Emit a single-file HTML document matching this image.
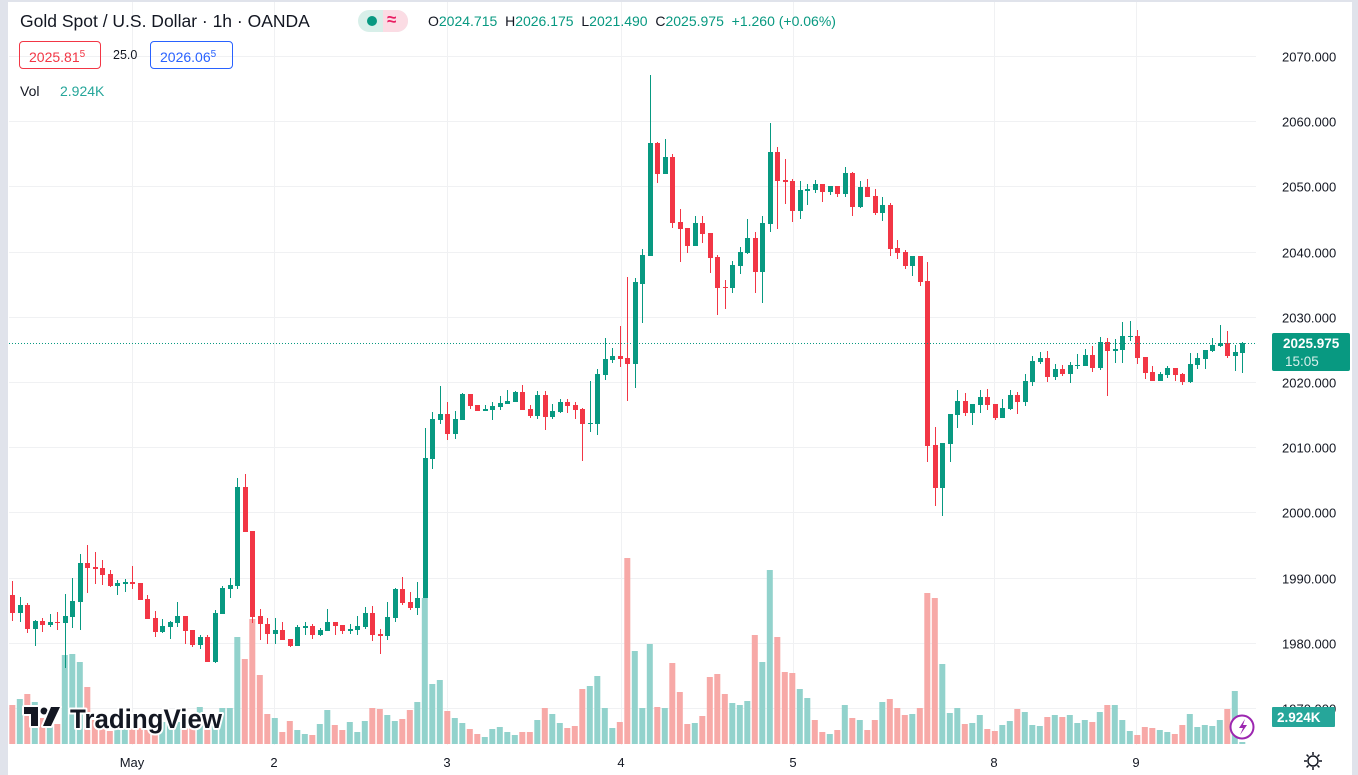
<!DOCTYPE html>
<html><head><meta charset="utf-8"><style>
html,body{margin:0;padding:0;background:#fff;}
body{width:1358px;height:775px;overflow:hidden;position:relative;font-family:"Liberation Sans",sans-serif;}
.t{position:absolute;white-space:nowrap;}
</style></head><body>
<svg id="s" width="1358" height="775" style="position:absolute;left:0;top:0" xmlns="http://www.w3.org/2000/svg">
<rect x="0" y="0" width="1358" height="775" fill="#fff"/>
<g id="grid"></g>
<g id="vol"></g>
<g id="cand"></g>
<line x1="9" y1="343.5" x2="1256" y2="343.5" stroke="#089981" stroke-width="1" stroke-dasharray="1,2"/>
<g id="axis" font-family="Liberation Sans, sans-serif" font-size="13" fill="#131722"></g>
<rect x="1272" y="333" width="78" height="38" rx="2" fill="#089981"/>
<text x="1283" y="348" font-family="Liberation Sans, sans-serif" font-size="13.5" fill="#fff" font-weight="bold">2025.975</text>
<text x="1285" y="366" font-family="Liberation Sans, sans-serif" font-size="13.5" fill="#d8f0ec">15:05</text>
<rect x="1272" y="707" width="63" height="20" rx="1" fill="#26a69a"/>
<text x="1277" y="722" font-family="Liberation Sans, sans-serif" font-size="13.5" fill="#fff" font-weight="bold">2.924K</text>
<g stroke="#131722" stroke-width="1.5" fill="none"><circle cx="1313" cy="761" r="5"/>
<path d="M1313 752v3M1313 767v3M1304 761h3M1319 761h3M1306.6 754.6l2 2M1317.4 765.4l2 2M1306.6 767.4l2-2M1317.4 756.6l2-2"/></g>
<g><circle cx="1242" cy="727" r="11.5" fill="#fff" stroke="#9c27b0" stroke-width="2"/>
<path d="M1245 719l-6 9h4l-3 7 7-10h-4z" fill="#9c27b0"/></g>
<g font-family="Liberation Sans, sans-serif" font-weight="bold" font-size="27" fill="#131722" stroke="#fff" stroke-width="4" paint-order="stroke" stroke-linejoin="round">
<path d="M24 707h14v19h-7v-12h-7z" fill="#131722"/>
<circle cx="44" cy="711" r="3.5" fill="#131722"/>
<path d="M51 707h9l-9 19h-8z" fill="#131722"/>
<text x="70" y="728" textLength="152" lengthAdjust="spacingAndGlyphs">TradingView</text>
</g>
<rect x="0" y="0" width="8" height="775" fill="#e0e3eb"/>
<rect x="0" y="0" width="1358" height="2" fill="#e0e3eb"/>
<rect x="1352" y="0" width="6" height="775" fill="#e0e3eb"/>
</svg>
<div class="t" style="left:20px;top:11px;font-size:17.5px;color:#131722;">Gold Spot / U.S. Dollar · 1h · OANDA</div>
<div class="t" style="left:358px;top:10px;width:50px;height:22px;border-radius:11px;background:#d8efe9;overflow:hidden;">
<div style="position:absolute;left:25px;top:0;width:25px;height:22px;background:#fbdce4;"></div>
<div style="position:absolute;left:9px;top:6px;width:10px;height:10px;border-radius:5px;background:#089981;"></div>
<div style="position:absolute;left:29px;top:0px;font-size:17px;color:#e91e63;font-weight:bold;">≈</div></div>
<div class="t" style="left:428px;top:13px;font-size:14px;color:#131722;">O<span style="color:#089981">2024.715</span>&nbsp; H<span style="color:#089981">2026.175</span>&nbsp; L<span style="color:#089981">2021.490</span>&nbsp; C<span style="color:#089981">2025.975</span>&nbsp; <span style="color:#089981">+1.260 (+0.06%)</span></div>
<div class="t" style="left:19px;top:41px;width:82px;height:28px;box-sizing:border-box;border:1px solid #f23645;border-radius:4px;color:#f23645;font-size:14px;line-height:26px;padding-left:9px;">2025.81<sup style="font-size:10px;vertical-align:5px">5</sup></div>
<div class="t" style="left:113px;top:48px;font-size:12.5px;color:#131722;">25.0</div>
<div class="t" style="left:150px;top:41px;width:83px;height:28px;box-sizing:border-box;border:1px solid #2962ff;border-radius:4px;color:#2962ff;font-size:14px;line-height:26px;padding-left:9px;">2026.06<sup style="font-size:10px;vertical-align:5px">5</sup></div>
<div class="t" style="left:20px;top:83px;font-size:14px;color:#131722;">Vol</div>
<div class="t" style="left:60px;top:83px;font-size:14px;color:#26a69a;">2.924K</div>
<script>
var NS="http://www.w3.org/2000/svg";
function el(p,t,a){var e=document.createElementNS(NS,t);for(var k in a)e.setAttribute(k,a[k]);p.appendChild(e);return e;}
var G="#089981",R="#f23645";
var grid=document.getElementById("grid"),ax=document.getElementById("axis");
var prices=[2070,2060,2050,2040,2030,2020,2010,2000,1990,1980,1970];
prices.forEach(function(p){var y=Math.round(56+(2070-p)*6.52)+0.5;
 el(grid,"line",{x1:9,y1:y,x2:1256,y2:y,stroke:"#f0f1f3","stroke-width":1});
 var t=el(ax,"text",{x:1282,y:y+5});t.textContent=p.toFixed(3);});
[[131,"May"],[273,"2"],[446,"3"],[620,"4"],[792,"5"],[993,"8"],[1135,"9"]].forEach(function(d){
 el(grid,"line",{x1:d[0]+1.5,y1:2,x2:d[0]+1.5,y2:745,stroke:"#f0f1f3","stroke-width":1});
 var t=el(ax,"text",{x:d[0]+1,y:767,"text-anchor":"middle"});t.textContent=d[1];});
var C=[
[595,613,581,621,R],[605,613,597,622,G],[605,629,603,633,R],[621,629,620,646,G],[621,625,618,632,R],[622,625,614,627,G],[622,623,612,630,R],[616,623,594,668,G],[601,617,578,628,G],[563,602,554,630,G],
[563,568,545,593,R],[567,569,552,584,R],[568,575,560,585,R],[574,586,570,587,R],[583,586,580,595,G],[582,584,579,592,G],[582,584,566,589,R],[583,600,583,600,R],[599,619,595,619,R],[618,632,611,637,R],
[626,632,619,633,G],[622,627,621,639,G],[616,623,602,627,G],[616,631,616,644,R],[630,645,630,647,R],[637,645,635,649,G],[637,662,635,662,R],[613,662,610,663,G],[588,614,586,614,G],[585,589,578,598,G],
[487,586,478,589,G],[487,532,474,532,R],[531,617,531,623,R],[616,624,609,640,R],[624,634,618,644,R],[630,634,618,644,G],[630,640,622,640,R],[639,646,639,647,R],[627,646,625,646,G],[626,628,622,635,G],
[626,635,624,639,R],[630,635,628,636,G],[622,631,609,631,G],[622,626,622,635,R],[625,631,625,634,R],[629,631,624,634,G],[626,630,616,635,G],[613,627,607,629,G],[613,635,606,641,R],[634,636,629,654,R],
[617,636,602,640,G],[589,618,588,622,G],[589,603,577,605,R],[602,608,592,610,R],[598,608,582,615,G],[458,598,428,598,G],[419,459,412,469,G],[414,420,386,424,G],[414,434,402,440,R],[419,434,411,439,G],
[394,420,393,420,G],[394,406,394,409,R],[405,411,405,411,R],[409,411,405,411,G],[406,410,402,420,G],[403,407,396,410,G],[401,404,390,404,G],[392,402,391,402,G],[392,410,385,410,R],[409,416,405,418,R],
[395,416,391,419,G],[395,417,391,430,R],[411,417,404,419,G],[402,412,399,413,G],[402,406,399,413,R],[405,410,402,419,R],[409,424,408,461,R],[423,424,381,432,G],[374,424,369,435,G],[359,375,338,380,G],
[356,360,348,363,G],[356,359,326,367,R],[358,364,277,401,R],[282,364,278,388,G],[255,284,249,323,G],[143,256,75,256,G],[143,174,142,183,R],[157,174,139,174,G],[157,223,154,228,R],[222,229,209,262,R],
[228,246,228,253,R],[223,246,216,246,G],[223,234,216,243,R],[233,258,233,273,R],[257,288,255,315,R],[287,288,280,309,R],[265,288,261,293,G],[252,266,247,274,G],[238,253,219,254,G],[238,272,232,293,R],
[223,272,216,303,G],[152,224,123,232,G],[152,181,147,229,R],[180,182,159,204,R],[181,211,179,222,R],[190,211,181,219,G],[189,191,184,205,G],[184,190,180,193,G],[184,192,184,202,R],[186,192,186,195,G],
[186,194,186,197,R],[173,194,167,197,G],[173,207,172,216,R],[187,207,181,208,G],[187,197,179,197,R],[196,213,189,215,R],[205,213,197,221,G],[205,249,203,256,R],[248,253,240,259,R],[252,266,250,269,R],
[256,266,256,276,G],[256,282,256,286,R],[281,446,262,462,R],[445,488,427,506,R],[443,488,443,516,G],[414,444,414,462,G],[401,415,390,428,G],[401,413,393,416,R],[404,413,404,425,G],[397,405,390,413,G],
[397,405,389,410,R],[404,418,404,420,R],[408,418,399,418,G],[395,409,390,410,G],[395,402,392,414,R],[381,402,374,406,G],[361,382,356,386,G],[358,362,352,364,G],[358,377,351,382,R],[369,377,364,380,G],
[369,374,365,376,R],[365,374,362,383,G],[365,366,354,369,G],[355,366,349,366,G],[355,368,346,372,R],[342,368,337,370,G],[342,351,338,396,R],[349,351,339,363,G],[336,350,322,363,G],[336,337,321,341,G],
[336,358,330,364,R],[357,373,357,379,R],[372,381,366,381,R],[374,381,372,381,G],[368,375,366,378,G],[368,375,368,381,R],[374,382,373,385,R],[364,382,353,383,G],[358,365,353,369,G],[350,359,350,369,G],
[345,351,338,352,G],[343,346,325,347,G],[343,356,331,358,R],[352,356,345,371,G],[343,353,342,373,G]];
var V=[[705,R],[699,G],[694,R],[702,G],[718,R],[722,G],[724,R],[655,G],[654,G],[662,G],
[687,R],[720,R],[725,R],[731,R],[728,G],[728,G],[728,R],[728,R],[730,R],[732,R],
[722,G],[720,G],[722,G],[728,R],[728,R],[707,G],[720,R],[717,G],[708,G],[708,G],
[637,G],[659,R],[619,R],[675,R],[714,R],[718,G],[732,R],[721,R],[730,G],[734,G],
[735,R],[724,G],[710,G],[725,R],[730,R],[722,G],[732,G],[721,G],[708,R],[709,R],
[715,G],[721,G],[719,R],[710,R],[702,G],[598,G],[684,G],[680,G],[711,R],[718,G],
[723,G],[729,R],[734,R],[737,G],[729,G],[727,G],[732,G],[735,G],[732,R],[732,R],
[720,G],[708,R],[714,G],[723,G],[728,R],[726,R],[689,R],[686,G],[676,G],[708,G],
[728,G],[722,R],[558,R],[651,G],[708,G],[644,G],[707,R],[708,G],[663,R],[692,R],
[724,R],[723,G],[716,R],[677,R],[674,R],[694,R],[703,G],[705,G],[701,G],[635,R],
[662,G],[570,G],[637,R],[672,R],[673,R],[689,G],[698,G],[720,R],[732,R],[734,G],
[730,R],[705,G],[718,R],[720,G],[730,R],[720,R],[702,G],[699,R],[708,R],[715,R],
[714,G],[708,R],[593,R],[598,R],[664,G],[713,G],[708,G],[724,R],[723,G],[715,G],
[729,R],[731,R],[725,G],[721,G],[709,R],[712,G],[725,G],[726,G],[717,R],[715,G],
[717,R],[715,G],[723,G],[720,G],[722,R],[712,G],[705,R],[705,G],[720,G],[731,G],
[735,R],[727,R],[728,R],[730,G],[732,G],[734,R],[725,R],[714,G],[727,G],[725,G],
[726,G],[720,G],[709,R],[691,G],[742,G]];
var vg=document.getElementById("vol"),cg=document.getElementById("cand");
V.forEach(function(v,i){var x=12.3+i*7.5;
 el(vg,"rect",{x:(x-3).toFixed(1),y:v[0],width:6,height:744-v[0],fill:v[1]==G?"#92d2cc":"#f7a9a7"});});
C.forEach(function(c,i){var x=Math.round(12.3+i*7.5);
 el(cg,"rect",{x:x,y:c[2],width:1,height:Math.max(1,c[3]-c[2]),fill:c[4]});
 el(cg,"rect",{x:x-2,y:c[0],width:5,height:Math.max(1,c[1]-c[0]),fill:c[4]});});
</script>
</body></html>
